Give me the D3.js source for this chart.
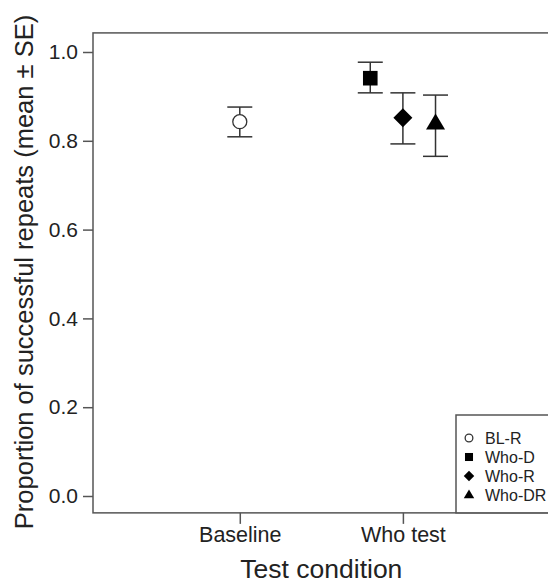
<!DOCTYPE html>
<html>
<head>
<meta charset="utf-8">
<script src="https://cdn.jsdelivr.net/npm/d3@7"></script>
<style>
  body { margin: 0; background: #fff; }
  text { font-family: Arial, "Liberation Sans", sans-serif; fill: #222; }
</style>
</head>
<body>
<div></div>
<script>
// data
const categories = ["Baseline", "Who test"];
const groups = ["BL-R", "Who-D", "Who-R", "Who-DR"];
const groupCat = ["Baseline", "Who test", "Who test", "Who test"];
const groupOffset = [0, -0.2, 0, 0.2];
const means = [0.843, 0.941, 0.852, 0.839];
const upper = [0.876, 0.977, 0.908, 0.903];
const lower = [0.809, 0.908, 0.793, 0.765];
const yTicks = [0.0, 0.2, 0.4, 0.6, 0.8, 1.0];

const W = 548, H = 586;
const svg = d3.select("div").append("svg").attr("width", W).attr("height", H);

const x = d3.scaleLinear().domain([0.1, 3]).range([93, 566]);
const y = d3.scaleLinear().domain([0, 1]).range([496, 52]);
const catIndex = c => categories.indexOf(c) + 1;

const box = { x0: 93, x1: 566, y0: y(1.043), y1: y(-0.038) };
const ink = "#333";

// plot frame
svg.append("rect")
  .attr("x", box.x0).attr("y", box.y0)
  .attr("width", box.x1 - box.x0).attr("height", box.y1 - box.y0)
  .attr("fill", "none").attr("stroke", "#555").attr("stroke-width", 1.5);

// y axis
const yAxis = svg.append("g")
  .attr("transform", "translate(" + box.x0 + ",0)")
  .call(d3.axisLeft(y).tickValues(yTicks).tickFormat(d3.format(".1f")).tickSize(10).tickPadding(5));
yAxis.select(".domain").remove();
yAxis.selectAll("line").attr("stroke", "#555").attr("stroke-width", 1.5);
yAxis.selectAll("text").style("font-size", "21px").attr("fill", "#222");

// x axis
const xAxis = svg.append("g")
  .attr("transform", "translate(0," + box.y1 + ")")
  .call(d3.axisBottom(x).tickValues(categories.map(catIndex))
    .tickFormat((d, i) => categories[i]).tickSize(11).tickPadding(3));
xAxis.select(".domain").remove();
xAxis.selectAll("line").attr("stroke", "#555").attr("stroke-width", 1.5);
xAxis.selectAll("text").style("font-size", "21.5px").attr("fill", "#222");

// axis titles
svg.append("text")
  .attr("x", (x(1) + x(2)) / 2).attr("y", 578)
  .attr("text-anchor", "middle").style("font-size", "26.5px")
  .text("Test condition");
svg.append("text")
  .attr("transform", "translate(33,272) rotate(-90)")
  .attr("text-anchor", "middle").style("font-size", "25.5px")
  .text("Proportion of successful repeats (mean \u00b1 SE)");

const data = groups.map((g, i) => ({
  g, i, cx: x(catIndex(groupCat[i]) + groupOffset[i]),
  m: means[i], hi: upper[i], lo: lower[i]
}));

// error bars
const eb = svg.append("g").attr("stroke", ink).attr("stroke-width", 1.5);
data.forEach(d => {
  eb.append("line").attr("x1", d.cx).attr("x2", d.cx).attr("y1", y(d.hi)).attr("y2", y(d.lo));
  eb.append("line").attr("x1", d.cx - 12.5).attr("x2", d.cx + 12.5).attr("y1", y(d.hi)).attr("y2", y(d.hi));
  eb.append("line").attr("x1", d.cx - 12.5).attr("x2", d.cx + 12.5).attr("y1", y(d.lo)).attr("y2", y(d.lo));
});

function drawMarker(sel, k, cx, cy, s) {
  if (k === 0) {
    sel.append("circle").attr("cx", cx).attr("cy", cy).attr("r", 7 * s)
      .attr("fill", "#fff").attr("stroke", ink).attr("stroke-width", 1.3);
  } else if (k === 1) {
    sel.append("rect").attr("x", cx - 7.3 * s).attr("y", cy - 7.3 * s)
      .attr("width", 14.6 * s).attr("height", 14.6 * s).attr("fill", "#000");
  } else if (k === 2) {
    const r = 9.5 * s;
    sel.append("path").attr("d", `M${cx},${cy - r}L${cx + r},${cy}L${cx},${cy + r}L${cx - r},${cy}Z`).attr("fill", "#000");
  } else {
    const w = 9.5 * s, h = 16 * s;
    sel.append("path").attr("d", `M${cx},${cy - h * 0.62}L${cx + w},${cy + h * 0.38}L${cx - w},${cy + h * 0.38}Z`).attr("fill", "#000");
  }
}

const pts = svg.append("g");
data.forEach(d => drawMarker(pts, d.i, d.cx, y(d.m), 1));

// legend
const lg = svg.append("g");
lg.append("rect").attr("x", 456).attr("y", 415).attr("width", 120).attr("height", box.y1 - 415)
  .attr("fill", "#fff").attr("stroke", "#555").attr("stroke-width", 1.5);
groups.forEach((g, i) => {
  const cy = 438 + i * 19;
  drawMarker(lg, i, 469, cy, 0.55);
  lg.append("text").attr("x", 485).attr("y", cy + 6).style("font-size", "16px").text(g);
});
</script>
</body>
</html>
